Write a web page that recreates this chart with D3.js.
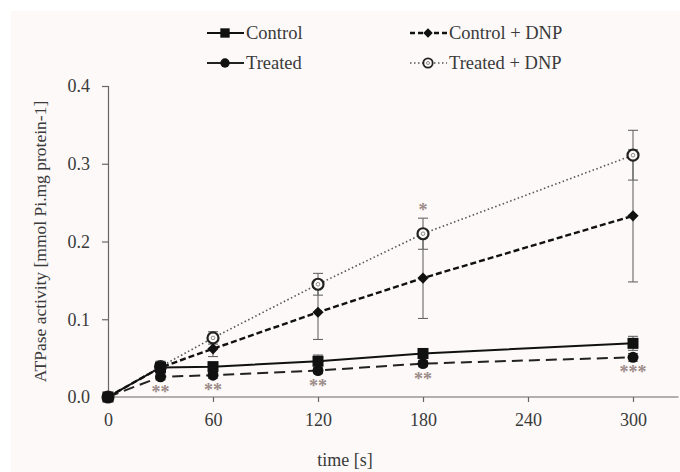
<!DOCTYPE html>
<html><head><meta charset="utf-8">
<script src="https://cdn.jsdelivr.net/npm/d3@7"></script>
<style>body{margin:0;background:#fff;}svg{display:block;}</style>
</head><body>
<svg id="c" width="680" height="472"></svg>
<script>
const times = [0, 30, 60, 120, 180, 300];
const seriesNames = ["Control", "Treated", "Control + DNP", "Treated + DNP"];
const controlVals = [0, 0.038, 0.039, 0.046, 0.056, 0.069];
const controlErr  = [0, 0.008, 0.006, 0.008, 0.006, 0.009];
const treatedVals = [0, 0.026, 0.028, 0.034, 0.043, 0.051];
const treatedErr  = [0, 0.004, 0.004, 0.004, 0.004, 0.005];
const cdnpVals = [0, 0.038, 0.062, 0.109, 0.153, 0.233];
const cdnpErr  = [0, 0.006, 0.010, 0.035, 0.052, 0.085];
const tdnpVals = [0, 0.039, 0.076, 0.145, 0.210, 0.311];
const tdnpErr  = [0, 0.006, 0.008, 0.014, 0.020, 0.032];
const xTicks = [0, 60, 120, 180, 240, 300];
const yTicks = [0.0, 0.1, 0.2, 0.3, 0.4];
const sigTreated = ["", "**", "**", "**", "**", "***"];
const sigTdnp = ["", "", "", "", "*", ""];

const svg = d3.select("#c");
svg.append("rect").attr("x", 11).attr("y", 11).attr("width", 669).attr("height", 461).attr("fill", "#fcf9f8");

const x = d3.scaleLinear().domain([0, 300]).range([108, 633]);
const y = d3.scaleLinear().domain([0, 0.4]).range([397, 86]);
const font = "'Liberation Serif', 'Times New Roman', serif";
const axisCol = "#666";
const textCol = "#3a3a3a";

// axes
const xAxis = svg.append("g").attr("transform", `translate(0,${y(0)})`)
  .call(d3.axisBottom(x).tickValues(xTicks).tickFormat(d3.format("d")).tickSizeOuter(0).tickSize(5).tickPadding(11));
xAxis.select(".domain").remove();
svg.append("line").attr("x1", x(0)).attr("x2", x(326)).attr("y1", y(0)).attr("y2", y(0)).attr("stroke", axisCol).attr("stroke-width", 1.2);
const yAxis = svg.append("g").attr("transform", `translate(${x(0)},0)`)
  .call(d3.axisLeft(y).tickValues(yTicks).tickFormat(d3.format(".1f")).tickSizeOuter(0).tickSize(6).tickPadding(12));
[xAxis, yAxis].forEach(g => {
  g.selectAll("line").attr("stroke", axisCol).attr("stroke-width", 1.2);
  g.selectAll(".domain").attr("stroke", axisCol).attr("stroke-width", 1.2);
  g.selectAll("text").attr("font-family", font).attr("font-size", 18).attr("fill", textCol);
});

svg.append("text").attr("x", 345).attr("y", 466).attr("text-anchor", "middle")
  .attr("font-family", font).attr("font-size", 18).attr("fill", textCol).text("time [s]");
svg.append("text").attr("transform", `translate(46,${y(0.2)}) rotate(-90)`).attr("text-anchor", "middle")
  .attr("font-family", font).attr("font-size", 17.5).attr("fill", textCol).text("ATPase activity [mmol Pi.mg protein-1]");

const series = [
  {name: seriesNames[0], vals: controlVals, err: controlErr, dash: null, legDash: null, width: 2, color: "#111", marker: "square"},
  {name: seriesNames[1], vals: treatedVals, err: treatedErr, dash: "11,6", legDash: null, width: 2, color: "#222", marker: "circle"},
  {name: seriesNames[2], vals: cdnpVals, err: cdnpErr, dash: "6,3", legDash: "5,3", width: 2.4, color: "#111", marker: "diamond"},
  {name: seriesNames[3], vals: tdnpVals, err: tdnpErr, dash: "1.5,2.5", legDash: "1.5,2.5", width: 1.6, color: "#555", marker: "open"}
];

const line = d3.line().x(d => x(d[0])).y(d => y(d[1]));

// error bars
series.forEach(s => {
  const g = svg.append("g");
  times.forEach((t, i) => {
    if (s.err[i] <= 0) return;
    const cx = x(t), y1 = y(s.vals[i] - s.err[i]), y2 = y(s.vals[i] + s.err[i]);
    g.append("line").attr("x1", cx).attr("x2", cx).attr("y1", y1).attr("y2", y2).attr("stroke", "#666").attr("stroke-width", 1.1);
    [y1, y2].forEach(yy => g.append("line").attr("x1", cx - 5).attr("x2", cx + 5).attr("y1", yy).attr("y2", yy).attr("stroke", "#666").attr("stroke-width", 1.1));
  });
});

function drawMarker(g, type, cx, cy, scale) {
  scale = scale || 1;
  if (type === "square") {
    g.append("rect").attr("x", cx - 5.5 * scale).attr("y", cy - 5.5 * scale).attr("width", 11 * scale).attr("height", 11 * scale).attr("fill", "#111");
  } else if (type === "circle") {
    g.append("circle").attr("cx", cx).attr("cy", cy).attr("r", 5.5 * scale).attr("fill", "#111");
  } else if (type === "diamond") {
    g.append("path").attr("d", d3.symbol(d3.symbolDiamond2, 80 * scale * scale)()).attr("transform", `translate(${cx},${cy})`).attr("fill", "#111");
  } else {
    g.append("circle").attr("cx", cx).attr("cy", cy).attr("r", 5.5 * scale).attr("fill", "#fcf9f8").attr("stroke", "#222").attr("stroke-width", 2.2 * scale);
    g.append("circle").attr("cx", cx).attr("cy", cy).attr("r", 1.8 * scale).attr("fill", "none").attr("stroke", "#777").attr("stroke-width", 0.8);
  }
}

// lines (draw in reverse so solid on top)
[3, 2, 1, 0].forEach(k => {
  const s = series[k];
  svg.append("path").datum(times.map((t, i) => [t, s.vals[i]])).attr("d", line)
    .attr("fill", "none").attr("stroke", s.color).attr("stroke-width", s.width)
    .attr("stroke-dasharray", s.dash);
});
[3, 2, 1, 0].forEach(k => {
  const s = series[k];
  const g = svg.append("g");
  times.forEach((t, i) => drawMarker(g, s.marker, x(t), y(s.vals[i])));
});

// significance marks
const sigCol = "#9b8a88";
times.forEach((t, i) => {
  if (sigTreated[i]) svg.append("text").attr("x", x(t)).attr("y", y(treatedVals[i]) + 21).attr("text-anchor", "middle")
    .attr("font-family", font).attr("font-size", 18).attr("font-weight", "bold").attr("fill", sigCol).text(sigTreated[i]);
  if (sigTdnp[i]) svg.append("text").attr("x", x(t)).attr("y", y(tdnpVals[i] + tdnpErr[i]) - 2).attr("text-anchor", "middle")
    .attr("font-family", font).attr("font-size", 18).attr("font-weight", "bold").attr("fill", sigCol).text(sigTdnp[i]);
});

// legend
const legPos = [[207, 33], [207, 63], [410, 33], [410, 63]];
series.forEach((s, k) => {
  const [lx, ly] = legPos[k];
  const g = svg.append("g");
  g.append("line").attr("x1", lx).attr("x2", lx + 37).attr("y1", ly).attr("y2", ly)
    .attr("stroke", s.color).attr("stroke-width", s.width).attr("stroke-dasharray", s.legDash);
  drawMarker(g, s.marker, lx + 18, ly, 0.85);
  g.append("text").attr("x", lx + 39).attr("y", ly + 6).attr("font-family", font).attr("font-size", 18.5)
    .attr("fill", textCol).text(s.name);
});
</script>
</body></html>
